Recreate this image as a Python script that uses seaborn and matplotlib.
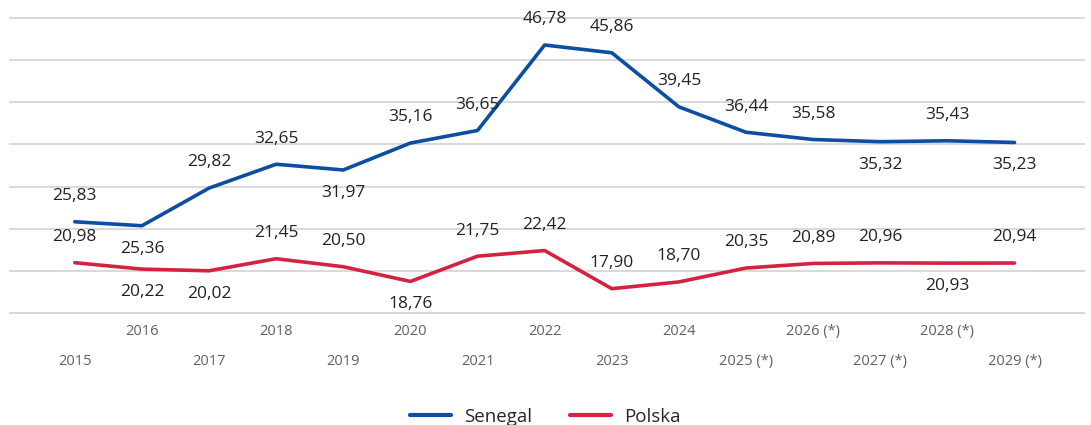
import matplotlib
matplotlib.use("Agg")
import matplotlib.pyplot as plt
import seaborn as sns
import pandas as pd

years = list(range(2015, 2030))
year_labels = ['2015', '2016', '2017', '2018', '2019', '2020', '2021', '2022', '2023',
               '2024', '2025 (*)', '2026 (*)', '2027 (*)', '2028 (*)', '2029 (*)']
senegal = [25.83, 25.36, 29.82, 32.65, 31.97, 35.16, 36.65, 46.78, 45.86,
           39.45, 36.44, 35.58, 35.32, 35.43, 35.23]
polska = [20.98, 20.22, 20.02, 21.45, 20.50, 18.76, 21.75, 22.42, 17.90,
          18.70, 20.35, 20.89, 20.96, 20.93, 20.94]

# where each value label sits relative to its point (a = above, b = below)
senegal_side = ['a', 'b', 'a', 'a', 'b', 'a', 'a', 'a', 'a', 'a', 'a', 'a', 'b', 'a', 'b']
polska_side = ['a', 'b', 'b', 'a', 'a', 'b', 'a', 'a', 'a', 'a', 'a', 'a', 'a', 'b', 'a']

colors = {'Senegal': '#0b4ea2', 'Polska': '#d42340'}

sns.set_style('white')
plt.rcParams['font.family'] = ['Open Sans', 'DejaVu Sans']

df = pd.DataFrame({
    'year': years * 2,
    'value': senegal + polska,
    'country': ['Senegal'] * len(years) + ['Polska'] * len(years),
})

fig = plt.figure(figsize=(10.91, 4.25), dpi=100)
ax = fig.add_axes([9 / 1091, 111 / 425, (1085 - 9) / 1091, (314 - 17) / 425])

sns.lineplot(data=df, x='year', y='value', hue='country', palette=colors,
             linewidth=2.6, ax=ax, legend=True)

ax.set_ylim(14.9, 50.1)
ax.set_xlim(2014.02, 2030.05)
ax.set_yticks(range(15, 51, 5))
ax.yaxis.grid(True, color='#d9d9d9', linewidth=1.4)
ax.tick_params(axis='y', left=False, labelleft=False)
for s in ax.spines.values():
    s.set_visible(False)
ax.set_xlabel('')
ax.set_ylabel('')

ax.set_xticks(years)
ax.set_xticklabels(year_labels, fontsize=10.5, color='#606060')
ax.tick_params(axis='x', length=0)
for i, tick in enumerate(ax.xaxis.get_major_ticks()):
    tick.set_pad(29 if i % 2 == 0 else 7.5)

def add_labels(values, sides):
    for x, v, s in zip(years, values, sides):
        off = 18.5 if s == 'a' else -16.5
        ax.annotate(f"{v:.2f}".replace('.', ','), (x, v), xytext=(0, off),
                    textcoords='offset points', ha='center', va='center',
                    fontsize=12.5, color='#222222')

add_labels(senegal, senegal_side)
add_labels(polska, polska_side)

handles, labels = ax.get_legend_handles_labels()
ax.get_legend().remove()
for h in handles:
    h.set_linewidth(3)
fig.legend(handles, labels, loc='center', bbox_to_anchor=(0.5, 8 / 425), ncol=2,
           frameon=False, fontsize=13.5, handlelength=2.2, columnspacing=2.0,
           handletextpad=0.7)

fig.savefig('out.png', dpi=100)
